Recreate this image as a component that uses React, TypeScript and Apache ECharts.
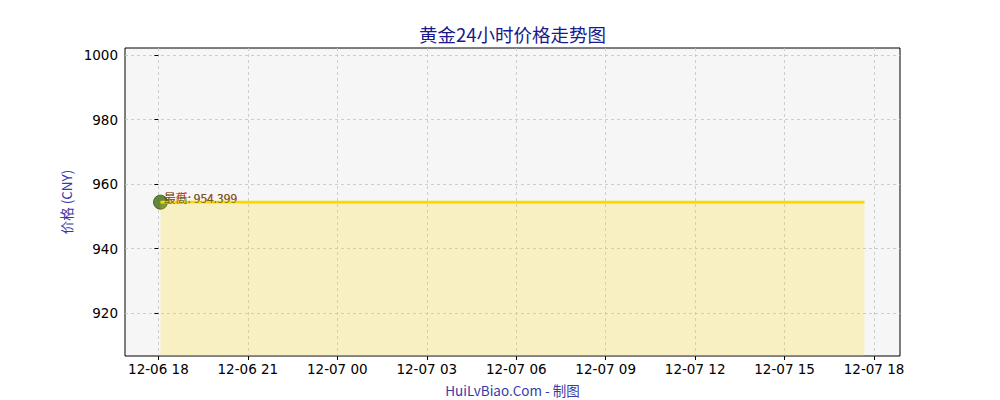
import React, { useEffect, useRef } from "react";
import * as echarts from "echarts";

// hours after 12-06 18:00
const times: number[] = [0.07, 2.0, 6.0, 10.0, 14.0, 18.0, 22.0, 23.68];
const prices: number[] = [954.399, 954.399, 954.399, 954.399, 954.399, 954.399, 954.399, 954.399];
const highLabel = "最高: 954.399";
const lowLabel = "最低: 954.399";
const baseMonth = 12;
const baseDay = 6;
const baseHour = 18;

function fmtHour(h: number): string {
  const total = baseHour + Math.round(h);
  const day = baseDay + Math.floor(total / 24);
  const hr = total % 24;
  const p = (n: number) => (n < 10 ? "0" + n : "" + n);
  return `${p(baseMonth)}-${p(day)} ${p(hr)}`;
}

export default function App() {
  const ref = useRef<HTMLDivElement>(null);
  useEffect(() => {
    if (!ref.current) return;
    const chart = echarts.init(ref.current, null, { renderer: "svg" });
    const lineData = times.map((t, i) => [t, prices[i]]);
    chart.setOption({
      animation: false,
      grid: {
        left: 125,
        right: 100,
        top: 48,
        bottom: 44,
        show: true,
        backgroundColor: "#f6f6f6",
        borderColor: "#000",
        borderWidth: 1,
      },
      xAxis: {
        type: "value",
        min: -1.12,
        max: 24.87,
        minInterval: 3,
        maxInterval: 3,
        splitNumber: 8,
        axisLine: { show: false },
        axisTick: { show: true, inside: false, length: 4, lineStyle: { color: "#000" } },
        axisLabel: {
          formatter: (v: number) => fmtHour(v),
          color: "#000",
          fontSize: 13.5,
          fontFamily: "DejaVu Sans",
          margin: 6,
          showMinLabel: false,
          showMaxLabel: false,
        },
        splitLine: {
          show: true,
          showMinLine: false,
          showMaxLine: false,
          lineStyle: { color: "#c4c4c4", type: [3, 3], width: 0.8 },
        },
      },
      yAxis: {
        type: "value",
        min: 906.7,
        max: 1002.2,
        minInterval: 20,
        maxInterval: 20,
        splitNumber: 5,
        name: "价格 (CNY)",
        nameLocation: "middle",
        nameGap: 52,
        nameTextStyle: { color: "#3838aa", fontSize: 13.5, fontFamily: "Noto Sans CJK SC" },
        axisLine: { show: false },
        axisTick: { show: true, inside: false, length: 4, lineStyle: { color: "#000" } },
        axisLabel: {
          formatter: (v: number) => String(v),
          color: "#000",
          fontSize: 13.5,
          fontFamily: "DejaVu Sans",
          margin: 7,
          showMinLabel: false,
          showMaxLabel: false,
        },
        splitLine: {
          show: true,
          showMinLine: false,
          showMaxLine: false,
          lineStyle: { color: "#c4c4c4", type: [3, 3], width: 0.8 },
        },
      },
      series: [
        {
          type: "scatter",
          data: [lineData[0]],
          symbolSize: 14,
          itemStyle: { color: "#3e6b10", borderColor: "#2e5508", borderWidth: 1 },
          z: 2,
          label: {
            show: true,
            position: "right",
            distance: -4,
            offset: [0, -5],
            formatter: lowLabel,
            color: "#e02020",
            fontSize: 12,
            fontFamily: "Noto Sans CJK SC",
          },
        },
        {
          type: "scatter",
          data: [lineData[0]],
          symbolSize: 0,
          z: 4,
          label: {
            show: true,
            position: "right",
            distance: 3,
            offset: [0, -5],
            formatter: highLabel,
            color: "#4a5e1a",
            fontSize: 12,
            fontFamily: "Noto Sans CJK SC",
          },
        },
        {
          type: "line",
          data: lineData,
          showSymbol: false,
          symbol: "none",
          z: 3,
          lineStyle: { color: "#ffd700", width: 2.6 },
          areaStyle: { color: "rgba(255, 215, 0, 0.3)", origin: "start" },
        },
      ],
      graphic: [
        {
          type: "text",
          x: 512.5,
          y: 34,
          style: {
            text: "黄金24小时价格走势图",
            fill: "#1a1a8c",
            fontSize: 18.5,
            fontFamily: "Noto Sans CJK SC",
            align: "center",
            verticalAlign: "middle",
          },
        },
        {
          type: "text",
          x: 512.5,
          y: 390,
          style: {
            text: "HuiLvBiao.Com - 制图",
            fill: "#3838aa",
            fontSize: 13.5,
            fontFamily: "Noto Sans CJK SC",
            align: "center",
            verticalAlign: "middle",
          },
        },
      ],
    });
    return () => chart.dispose();
  }, []);
  return (
    <div
      ref={ref}
      style={{ position: "absolute", left: 0, top: 0, width: 1000, height: 400 }}
    />
  );
}
